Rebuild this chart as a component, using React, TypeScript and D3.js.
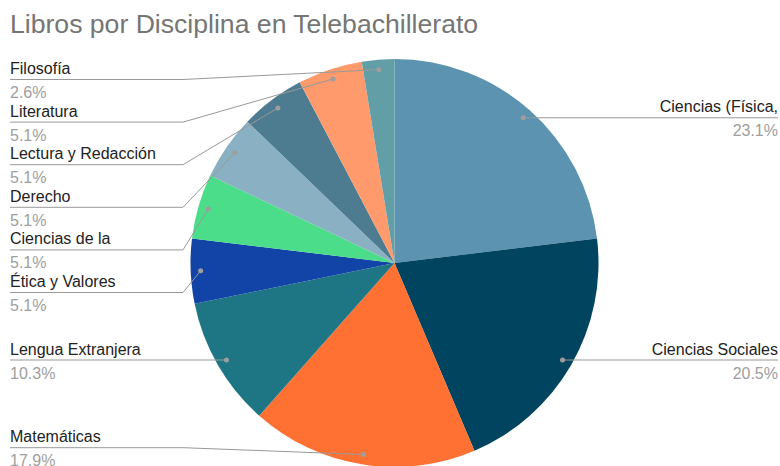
import React from "react";
import * as d3 from "d3";

const categories = [
  "Ciencias (Física,",
  "Ciencias Sociales",
  "Matemáticas",
  "Lengua Extranjera",
  "Ética y Valores",
  "Ciencias de la",
  "Derecho",
  "Lectura y Redacción",
  "Literatura",
  "Filosofía",
];
const values = [9, 8, 7, 4, 2, 2, 2, 2, 2, 1];
const colors = [
  "#5b93b1",
  "#00445f",
  "#ff7033",
  "#1e7584",
  "#1144a6",
  "#4cdd8a",
  "#8ab0c4",
  "#4d7b8f",
  "#ff9a6c",
  "#619ea6",
];
const title = "Libros por Disciplina en Telebachillerato";

const W = 780;
const H = 466;
const FONT = "'Liberation Sans', Arial, sans-serif";

export default function App() {
  const cx = 394.5;
  const cy = 263;
  const r = 204;
  const total = d3.sum(values);
  const pie = d3.pie<number>().sort(null).value((d) => d)(values);
  const arc = d3.arc<d3.PieArcDatum<number>>().innerRadius(0).outerRadius(r);

  const items = pie.map((p, i) => {
    const mid = (p.startAngle + p.endAngle) / 2;
    const dx = Math.sin(mid) * 194;
    const dy = -Math.cos(mid) * 194;
    return {
      i,
      p,
      mid,
      dot: [cx + dx, cy + dy],
      left: mid > Math.PI,
      pct: d3.format(".1f")((values[i] / total) * 100) + "%",
    };
  });

  const spacing = 42.6;
  const topY = 79.5;
  const botY = 447.7;
  const lineY: Record<number, number> = {};
  const layout = (list: typeof items) => {
    let prev = -Infinity;
    list
      .sort((a, b) => a.dot[1] - b.dot[1])
      .forEach((d) => {
        let y = Math.max(prev + spacing, d.dot[1], topY);
        y = Math.min(y, botY);
        lineY[d.i] = y;
        prev = y;
      });
  };
  layout(items.filter((d) => d.left));
  layout(items.filter((d) => !d.left));

  const bendX = 183;
  const leftX = 10;
  const rightX = 778;

  return (
    <div style={{ position: "fixed", left: 0, top: 0 }}>
      <svg width={W} height={H} style={{ display: "block", background: "#fff" }}>
        <text x={10} y={33} fontFamily={FONT} fontSize={26.6} fill="#757575">
          {title}
        </text>
        <g transform={`translate(${cx},${cy})`}>
          {pie.map((p, i) => (
            <path key={i} d={arc(p) || ""} fill={colors[i]} />
          ))}
        </g>
        {items.map((d) => {
          const y = lineY[d.i];
          const [dx, dy] = d.dot;
          let path: string;
          if (d.left) {
            const bx = Math.abs(y - dy) < 1 ? dx : bendX;
            path = `M${leftX},${y}L${bx},${y}L${dx},${dy}`;
          } else {
            path = `M${dx},${dy}L${dx},${y}L${rightX},${y}`;
          }
          return (
            <g key={d.i}>
              <path d={path} fill="none" stroke="#999999" strokeWidth={1} />
              <circle cx={dx} cy={dy} r={2.5} fill="#9e9e9e" />
              <text
                x={d.left ? leftX : rightX}
                y={y - 5.5}
                textAnchor={d.left ? "start" : "end"}
                fontFamily={FONT}
                fontSize={16}
                fill="#222222"
              >
                {categories[d.i]}
              </text>
              <text
                x={d.left ? leftX : rightX}
                y={y + 18.5}
                textAnchor={d.left ? "start" : "end"}
                fontFamily={FONT}
                fontSize={16}
                fill="#9e9e9e"
              >
                {d.pct}
              </text>
            </g>
          );
        })}
      </svg>
    </div>
  );
}
